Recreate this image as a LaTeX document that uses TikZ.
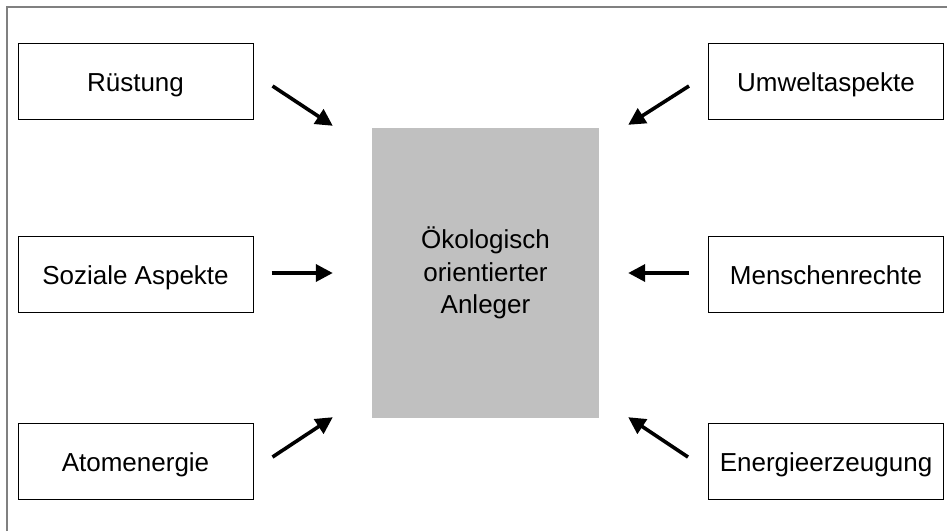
\documentclass[tikz,border=0pt]{standalone}
\usepackage{fontspec}
\setmainfont{Liberation Sans}
\usepackage{tikz}
\usetikzlibrary{arrows.meta,positioning,calc}
\definecolor{kastengrau}{HTML}{C0C0C0}
\definecolor{rahmengrau}{HTML}{808080}

\begin{document}
\begin{tikzpicture}[x=1pt, y=-1pt,
  thema/.style={draw, line width=1pt, rectangle, minimum width=235pt, minimum height=76pt, text height=20pt, text depth=0pt, font=\fontsize{26}{32.5}\selectfont},
  pfeil/.style={-{Triangle[length=17pt,width=17pt]}, line width=3.6pt}]
  \useasboundingbox (0,0) rectangle (947,531);
  \draw[rahmengrau, line width=1.5pt] (7,531) -- (7,7) -- (947,7);

  \node[rectangle, fill=kastengrau, minimum width=227pt, minimum height=290pt, align=center, font=\fontsize{26}{32.5}\selectfont] (anleger) at (485.5,273) {Ökologisch\\orientierter\\Anleger};

  % Themen links
  \node[thema] (ruestung) at (135.5,81) {Rüstung};
  \node[thema] (soziales) at (135.5,274) {Soziale Aspekte};
  \node[thema] (atom) at (135.5,461) {Atomenergie};

  % Themen rechts
  \node[thema] (umwelt) at (826,81) {Umweltaspekte};
  \node[thema] (menschen) at (826,274) {Menschenrechte};
  \node[thema] (energie) at (826,461) {Energieerzeugung};

  \draw[pfeil] ($(ruestung.east)+(19,5)$) -- ($(anleger.north west)+(-39,-2)$);
  \draw[pfeil] ($(soziales.east)+(18,-1)$) -- ($(anleger.west)+(-39,0)$);
  \draw[pfeil] ($(atom.east)+(19,-4)$) -- ($(anleger.south west)+(-39,-1)$);
  \draw[pfeil] ($(umwelt.west)+(-19,5)$) -- ($(anleger.north east)+(29,-3)$);
  \draw[pfeil] ($(menschen.west)+(-19,-1)$) -- ($(anleger.east)+(29,0)$);
  \draw[pfeil] ($(energie.west)+(-20,-4)$) -- ($(anleger.south east)+(29,-1)$);
\end{tikzpicture}
\end{document}
